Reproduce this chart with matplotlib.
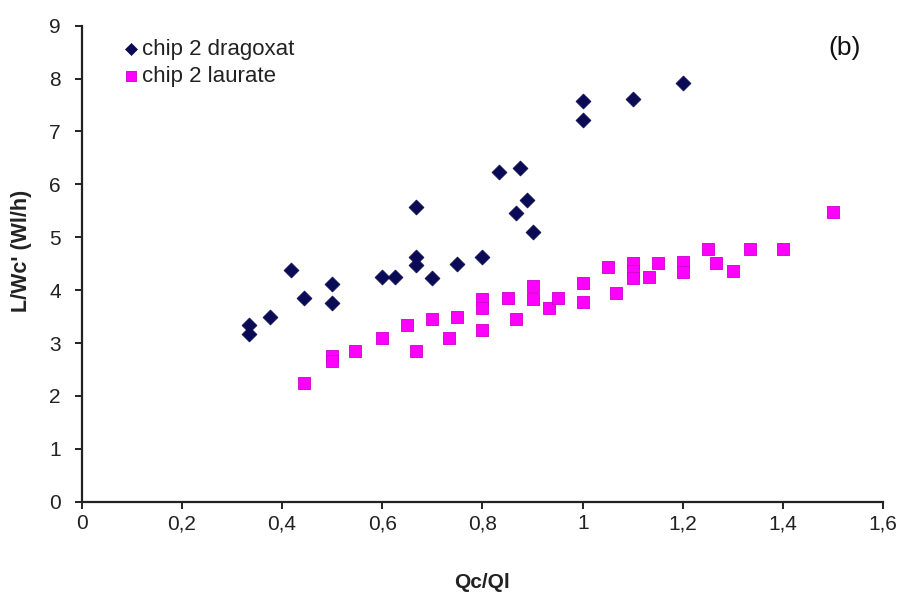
import matplotlib
matplotlib.use("Agg")
import matplotlib.pyplot as plt
from matplotlib.ticker import FixedLocator

plt.rcParams['font.family'] = ['Liberation Sans', 'DejaVu Sans']

# Data
dragoxat_x = [0.333, 0.333, 0.375, 0.417, 0.444, 0.5, 0.5, 0.6, 0.625, 0.667, 0.667, 0.667,
              0.7, 0.75, 0.8, 0.833, 0.875, 0.867, 0.889, 0.9, 1.0, 1.0, 1.1, 1.2]
dragoxat_y = [3.35, 3.17, 3.49, 4.38, 3.86, 4.11, 3.76, 4.24, 4.24, 5.57, 4.63, 4.47,
              4.23, 4.49, 4.63, 6.24, 6.31, 5.46, 5.70, 5.10, 7.58, 7.22, 7.61, 7.92]

laurate_x = [0.444, 0.5, 0.5, 0.545, 0.6, 0.65, 0.667, 0.7, 0.733, 0.75, 0.8, 0.8, 0.8,
             0.85, 0.867, 0.9, 0.9, 0.933, 0.95, 1.0, 1.0, 1.05, 1.067, 1.1, 1.1, 1.1,
             1.133, 1.15, 1.2, 1.2, 1.25, 1.267, 1.3, 1.333, 1.4, 1.5]
laurate_y = [2.25, 2.75, 2.66, 2.84, 3.09, 3.34, 2.84, 3.45, 3.09, 3.50, 3.83, 3.67, 3.25,
             3.86, 3.45, 4.08, 3.84, 3.66, 3.86, 4.13, 3.77, 4.43, 3.95, 4.51, 4.37, 4.23,
             4.25, 4.51, 4.53, 4.34, 4.77, 4.51, 4.36, 4.77, 4.77, 5.47]

x_ticks = [0, 0.2, 0.4, 0.6, 0.8, 1.0, 1.2, 1.4, 1.6]
x_tick_labels = ["0", "0,2", "0,4", "0,6", "0,8", "1", "1,2", "1,4", "1,6"]
y_ticks = [0, 1, 2, 3, 4, 5, 6, 7, 8, 9]

series1_label = "chip 2 dragoxat"
series2_label = "chip 2 laurate"
x_label = "Qc/Ql"
y_label = "L/Wc' (Wl/h)"
panel_label = "(b)"

W, H = 904, 616
fig = plt.figure(figsize=(W / 100, H / 100), dpi=100)
fig.patch.set_facecolor("white")
ax = fig.add_axes([81.7 / W, 1 - 501.7 / H, (883.3 - 81.7) / W, (501.7 - 25.7) / H])

ax.scatter(dragoxat_x, dragoxat_y, marker='D', s=58, color='#0a0a55',
           edgecolors='#0a0a55', linewidths=0.5, label=series1_label, zorder=3, clip_on=False)
ax.scatter(laurate_x, laurate_y, marker='s', s=70, color='#ff00ff',
           edgecolors='#cc00cc', linewidths=0.6, label=series2_label, zorder=3, clip_on=False)

ax.set_xlim(0, 1.6)
ax.set_ylim(0, 9)
ax.xaxis.set_major_locator(FixedLocator(x_ticks))
ax.set_xticklabels(x_tick_labels)
ax.yaxis.set_major_locator(FixedLocator(y_ticks))

for s in ['top', 'right']:
    ax.spines[s].set_visible(False)
for s in ['left', 'bottom']:
    ax.spines[s].set_linewidth(1.6)
    ax.spines[s].set_color('#222222')

ax.tick_params(axis='both', direction='out', length=5, width=1.4, color='#222222',
               labelsize=15, labelcolor='#222222')
ax.tick_params(axis='y', pad=10)
ax.tick_params(axis='x', pad=4)

fig.text(482 / W, 1 - 583 / H, x_label, fontsize=15, fontweight='bold',
         ha='center', va='center', color='#222222')
fig.text(22 / W, 1 - 251 / H, y_label, fontsize=15.5, fontweight='bold',
         ha='center', va='center', rotation=90, color='#222222')
fig.text(845 / W, 1 - 48 / H, panel_label, fontsize=19, ha='center', va='center',
         color='#111111')

leg = ax.legend(loc='upper left', bbox_to_anchor=(110 / W, 1 - 28 / H),
                bbox_transform=fig.transFigure, frameon=False, fontsize=16,
                handletextpad=0.05, handlelength=0.9, labelspacing=0.25,
                borderpad=0, markerscale=0.8)
for t in leg.get_texts():
    t.set_color('#222222')

fig.savefig("out.png", dpi=100, facecolor='white')
